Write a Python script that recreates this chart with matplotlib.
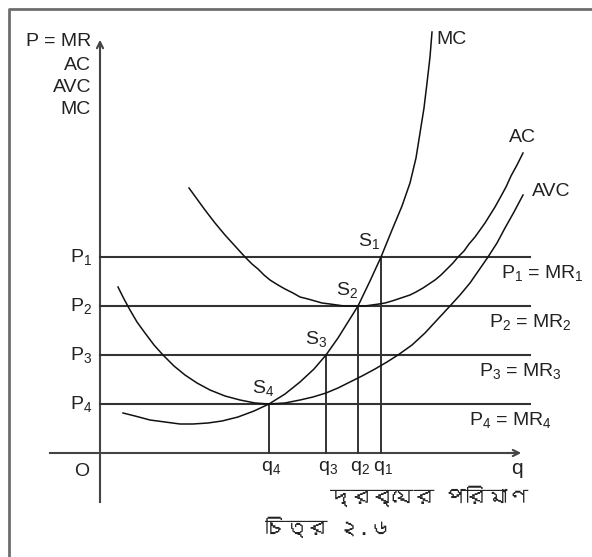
import numpy as np
import matplotlib
matplotlib.use("Agg")
import matplotlib.pyplot as plt
from matplotlib import font_manager
from matplotlib.ft2font import FT2Font

plt.rcParams["font.family"] = ["Liberation Sans", "DejaVu Sans"]
plt.rcParams["mathtext.fontset"] = "custom"
plt.rcParams["mathtext.rm"] = "Liberation Sans"
plt.rcParams["mathtext.it"] = "Liberation Sans"

# price levels (pixel rows in the diagram) and their labels
price_levels = [257, 306, 355, 404]
price_labels = ["1", "2", "3", "4"]
# output levels q1..q4 and the price each one meets
q_positions = [381, 358, 326, 269]
q_tops = [257, 306, 355, 404]
q_labels = ["1", "2", "3", "4"]

# curves (x, y in picture pixels)
mc_x = [123, 135, 150, 165, 180, 193, 208, 222, 238, 254, 269, 285, 300, 314, 326, 338, 348, 358, 370, 381, 392, 402, 410, 416, 420, 424, 427, 430, 432]
mc_y = [413, 416, 420, 422, 424, 424, 423, 421, 417, 411, 404, 394, 382, 369, 355, 338, 322, 306, 281, 257, 230, 206, 183, 158, 133, 108, 83, 57, 32]

ac_x = [189, 197, 205, 215, 225, 235, 245, 252, 258, 264, 270, 278, 285, 293, 300, 308, 315, 322, 330, 337, 344, 351, 358, 365, 372, 379, 385, 392, 398, 404, 410, 416, 423, 429, 435, 441, 447, 453, 458, 464, 469, 475, 480, 485, 490, 495, 500, 506, 511, 517, 523]
ac_y = [188, 199, 210, 223, 235, 246, 257, 264, 269, 275, 280, 285, 289, 293, 297, 299, 301, 303, 304, 305, 306, 306, 306, 306, 305, 304, 303, 301, 299, 297, 295, 292, 288, 284, 280, 275, 269, 263, 257, 251, 244, 237, 230, 223, 215, 207, 198, 187, 176, 165, 153]

avc_x = [118, 124, 130, 137, 145, 154, 163, 174, 185, 197, 210, 225, 240, 255, 269, 285, 300, 313, 326, 338, 350, 362, 375, 387, 398, 412, 425, 437, 450, 460, 470, 479, 488, 497, 505, 514, 523]
avc_y = [287, 299, 310, 322, 333, 345, 355, 366, 375, 383, 390, 396, 400, 403, 404, 403, 400, 397, 393, 388, 382, 376, 369, 362, 355, 345, 333, 320, 306, 295, 283, 270, 257, 243, 228, 212, 195]

fig = plt.figure(figsize=(5.92, 5.57), dpi=100)
ax = fig.add_axes([0, 0, 1, 1])
ax.set_xlim(0, 592)
ax.set_ylim(557, 0)
ax.axis("off")

# frame (only top and left edges show)
ax.plot([9, 9, 592], [557, 9, 9], color="#6e6e6e", lw=2.0, solid_capstyle="butt")

# axes
ax.plot([100, 100], [502, 45], color="#444444", lw=1.5)
ax.annotate("", xy=(100, 37), xytext=(100, 50),
            arrowprops=dict(arrowstyle="->", color="#444444", lw=1.5, mutation_scale=11))
ax.plot([50, 515], [453, 453], color="#444444", lw=1.5)
ax.annotate("", xy=(524, 453), xytext=(505, 453),
            arrowprops=dict(arrowstyle="->", color="#444444", lw=1.5, mutation_scale=11))

# price lines
for p in price_levels:
    ax.plot([100, 530], [p, p], color="#333333", lw=1.5)

# q verticals
for qx, qt in zip(q_positions, q_tops):
    ax.plot([qx, qx], [qt, 453], color="#333333", lw=1.4)

# curves
for xs, ys in [(mc_x, mc_y), (ac_x, ac_y), (avc_x, avc_y)]:
    ax.plot(xs, ys, color="#111111", lw=1.1, solid_joinstyle="round")

fs = 14
tc = "#222222"

def sub(base, s):
    return r"$\mathregular{" + base + "_{" + s + "}}$"

# y-axis title
for txt, y in [("P = MR", 42), ("AC", 66), ("AVC", 88), ("MC", 110)]:
    ax.text(91, y, txt, ha="right", va="center", fontsize=fs, color=tc)

# price labels on the axis
for p, s in zip(price_levels, price_labels):
    ax.text(92, p, sub("P", s), ha="right", va="center", fontsize=fs, color=tc)
ax.text(82, 472, "O", ha="center", va="center", fontsize=fs, color=tc)

# right labels
right_edges = [584, 572, 562, 552]
for p, s, r in zip(price_levels, price_labels, right_edges):
    ax.text(r, p + 16, sub("P", s) + " = " + sub("MR", s), ha="right", va="center",
            fontsize=fs, color=tc)

# S points
s_pos = [(369, 241), (347, 290), (316, 339), (263, 388)]
for (sx, sy), s in zip(s_pos, price_labels):
    ax.text(sx, sy, sub("S", s), ha="center", va="center", fontsize=fs, color=tc)

# q labels
for qx, s in zip(q_positions, q_labels):
    ax.text(qx + 2, 468, sub("q", s), ha="center", va="center", fontsize=fs, color=tc)
ax.text(517, 468, "q", ha="center", va="center", fontsize=fs + 1, color=tc)

# curve names
ax.text(436, 40, "MC", ha="left", va="center", fontsize=fs, color=tc)
ax.text(509, 138, "AC", ha="left", va="center", fontsize=fs, color=tc)
ax.text(532, 192, "AVC", ha="left", va="center", fontsize=fs, color=tc)

# bengali captions
beng = None
for f in font_manager.fontManager.ttflist:
    try:
        if 0x09A6 in FT2Font(f.fname).get_charmap():
            beng = f.name
            break
    except Exception:
        pass
fams = [beng] if beng else []
fams += ["Noto Sans", "DejaVu Sans"]
ax.text(528, 496, "দ্রব্যের পরিমাণ", ha="right", va="center", fontsize=15,
        color=tc, family=fams)
ax.text(265, 527, "চিত্র ২.৬", ha="left", va="center", fontsize=15,
        color=tc, family=fams)

fig.savefig("out.png", dpi=100)
